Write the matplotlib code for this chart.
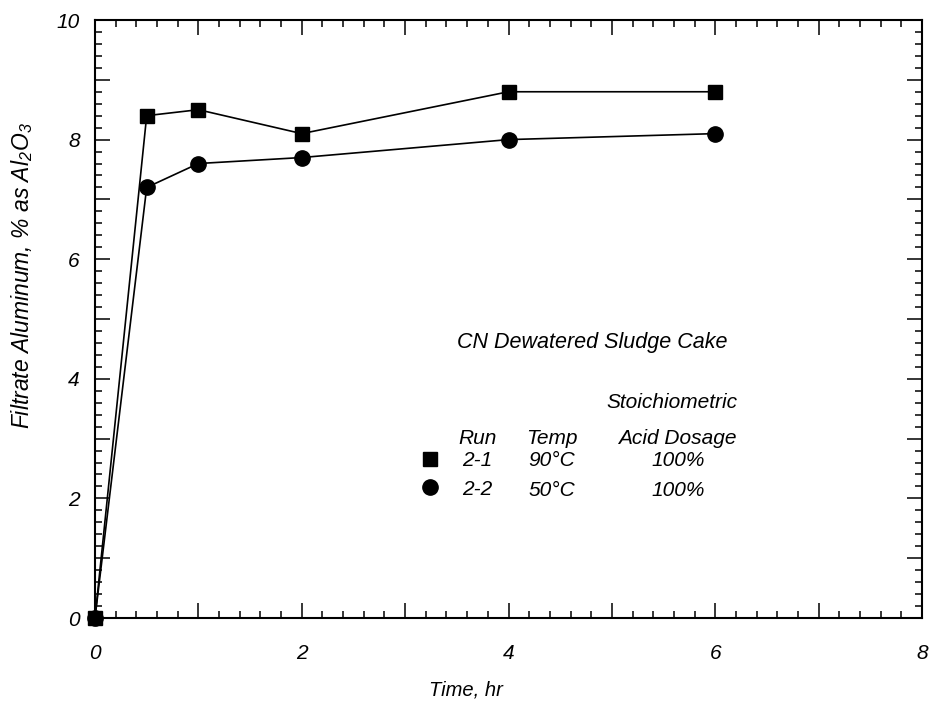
import matplotlib
matplotlib.use("Agg")
import matplotlib.pyplot as plt
from matplotlib.ticker import MultipleLocator, FuncFormatter
from matplotlib.lines import Line2D

plt.rcParams['font.family'] = ['Liberation Sans', 'DejaVu Sans']
plt.rcParams['font.style'] = 'italic'
plt.rcParams['mathtext.fontset'] = 'custom'
plt.rcParams['mathtext.rm'] = 'Liberation Sans:italic'
plt.rcParams['mathtext.it'] = 'Liberation Sans:italic'
plt.rcParams['mathtext.default'] = 'it'

# Data
time_hr = [0, 0.5, 1, 2, 4, 6]
run_2_1 = [0, 8.4, 8.5, 8.1, 8.8, 8.8]   # 90 C, squares
run_2_2 = [0, 7.2, 7.6, 7.7, 8.0, 8.1]   # 50 C, circles
runs = ["2-1", "2-2"]
temps = ["90\u00b0C", "50\u00b0C"]
dosages = ["100%", "100%"]
x_ticks_major = 1
y_ticks_major = 1

W, H = 932, 707
fig = plt.figure(figsize=(W / 100, H / 100), dpi=100)
ax = fig.add_axes([95 / W, 1 - 618 / H, (922 - 95) / W, (618 - 20) / H])

l1, = ax.plot(time_hr, run_2_1, color='black', lw=1.2, marker='s', ms=10,
              clip_on=False, zorder=3)
l2, = ax.plot(time_hr, run_2_2, color='black', lw=1.2, marker='o', ms=11,
              clip_on=False, zorder=2)

ax.set_xlim(0, 8)
ax.set_ylim(0, 10)
ax.xaxis.set_major_locator(MultipleLocator(x_ticks_major))
ax.xaxis.set_minor_locator(MultipleLocator(0.2))
ax.yaxis.set_major_locator(MultipleLocator(y_ticks_major))
ax.yaxis.set_minor_locator(MultipleLocator(0.2))
even = FuncFormatter(lambda v, p: f"{int(round(v))}" if int(round(v)) % 2 == 0 else "")
ax.xaxis.set_major_formatter(even)
ax.yaxis.set_major_formatter(even)

ax.tick_params(which='both', direction='in', top=True, right=True, width=1.1)
ax.tick_params(which='major', length=11, labelsize=15)
ax.tick_params(which='minor', length=5)
ax.tick_params(axis='x', which='major', pad=19)
ax.tick_params(axis='y', which='major', pad=11)
for sp in ax.spines.values():
    sp.set_linewidth(1.5)

ax.set_xlabel("Time, hr", fontsize=14.5, va='center', ha='center')
ax.xaxis.set_label_coords((466 - 95) / 827, (618 - 690) / 598)
ax.set_ylabel(r"Filtrate Aluminum, % as Al$_2$O$_3$", fontsize=16.5, va='center', ha='center')
ax.yaxis.set_label_coords((22 - 95) / 827, (618 - 276) / 598)

fs = 15
ax.text(4.81, 4.60, "CN Dewatered Sludge Cake", fontsize=15.5, ha='center', va='center')
ax.text(5.58, 3.60, "Stoichiometric", fontsize=fs, ha='center', va='center')
ax.text(3.70, 3.01, "Run", fontsize=fs, ha='center', va='center')
ax.text(4.42, 3.01, "Temp", fontsize=fs, ha='center', va='center')
ax.text(5.63, 3.01, "Acid Dosage", fontsize=fs, ha='center', va='center')
row_y = [2.64, 2.14]
for i in range(2):
    ax.text(4.42, row_y[i], temps[i], fontsize=fs, ha='center', va='center')
    ax.text(5.64, row_y[i], dosages[i], fontsize=fs, ha='center', va='center')

handles = [Line2D([], [], color='black', marker='s', ms=10, ls='none'),
           Line2D([], [], color='black', marker='o', ms=11, ls='none')]
leg = ax.legend(handles, runs, loc='center left',
                bbox_to_anchor=((420 - 95) / 827, (618 - 475) / 598),
                frameon=False, fontsize=fs, borderpad=0, borderaxespad=0,
                handlelength=1.0, handletextpad=1.0, labelspacing=0.45)

fig.savefig("out.png", dpi=100)
